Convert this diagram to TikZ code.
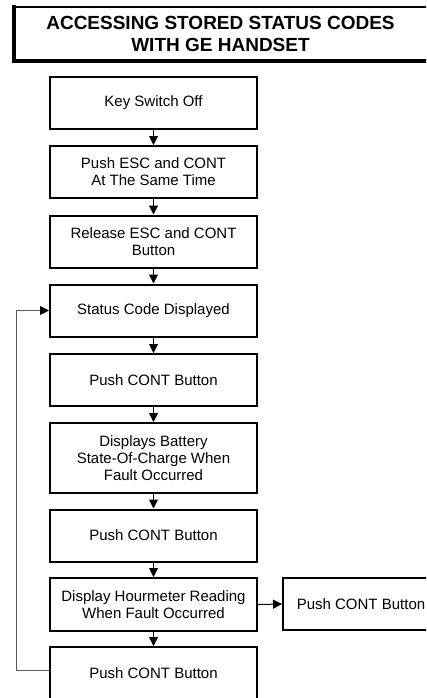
\documentclass[tikz,border=0pt]{standalone}
\usepackage{fontspec}
\setmainfont{Liberation Sans}
\usetikzlibrary{arrows.meta}
\begin{document}
\begin{tikzpicture}[x=1pt,y=-1pt,
  stepbox/.style={draw, line width=2pt, minimum width=207pt, minimum height=52pt,
    align=center, inner sep=2pt, font=\fontsize{15}{17}\selectfont},
  flow/.style={line width=1pt, -{Triangle[width=9pt,length=9pt]}},
  loopline/.style={line width=1pt, draw=black!65, -{Triangle[width=9pt,length=9pt,color=black]}}]
\useasboundingbox (0,0) rectangle (426,698);
\clip (0,0) rectangle (426,698);
% title
\draw[line width=2.5pt] (14,7) rectangle (430,60);
\draw[line width=4pt] (14,5.5) -- (14,61) -- (430,61);
\node[align=center, font=\bfseries\fontsize{19}{22}\selectfont] (title) at (220.5,34) {ACCESSING STORED STATUS CODES\\WITH GE HANDSET};
% boxes
\node[stepbox] (b1) at (153.5,103) {Key Switch Off};
\node[stepbox] (b2) at (153.5,172) {Push ESC and CONT\\At The Same Time};
\node[stepbox] (b3) at (153.5,241.5) {Release ESC and CONT\\Button};
\node[stepbox] (b4) at (153.5,310.5) {Status Code Displayed};
\node[stepbox] (b5) at (153.5,380) {Push CONT Button};
\node[stepbox, minimum height=70pt] (b6) at (153.5,458) {Displays Battery\\State-Of-Charge When\\Fault Occurred};
\node[stepbox] (b7) at (153.5,535.5) {Push CONT Button};
\node[stepbox, minimum height=53pt] (b8) at (153.5,604.5) {Display Hourmeter Reading\\When Fault Occurred};
\node[stepbox, minimum height=53pt] (b9) at (153.5,673.5) {Push CONT Button};
\node[stepbox, minimum width=156pt] (s1) at (361,604) {Push CONT Button};
% connectors
\draw[flow] (b1) -- (b2);
\draw[flow] (b2) -- (b3);
\draw[flow] (b3) -- (b4);
\draw[flow] (b4) -- (b5);
\draw[flow] (b5) -- (b6);
\draw[flow] (b6) -- (b7);
\draw[flow] (b7) -- (b8);
\draw[flow] (b8) -- (b9);
\draw[flow] (b8.east) -- (s1.west);
\coordinate (lp) at (16,670);
\draw[loopline] (b9.west |- lp) -- (lp) |- (b4.west);
\end{tikzpicture}
\end{document}
